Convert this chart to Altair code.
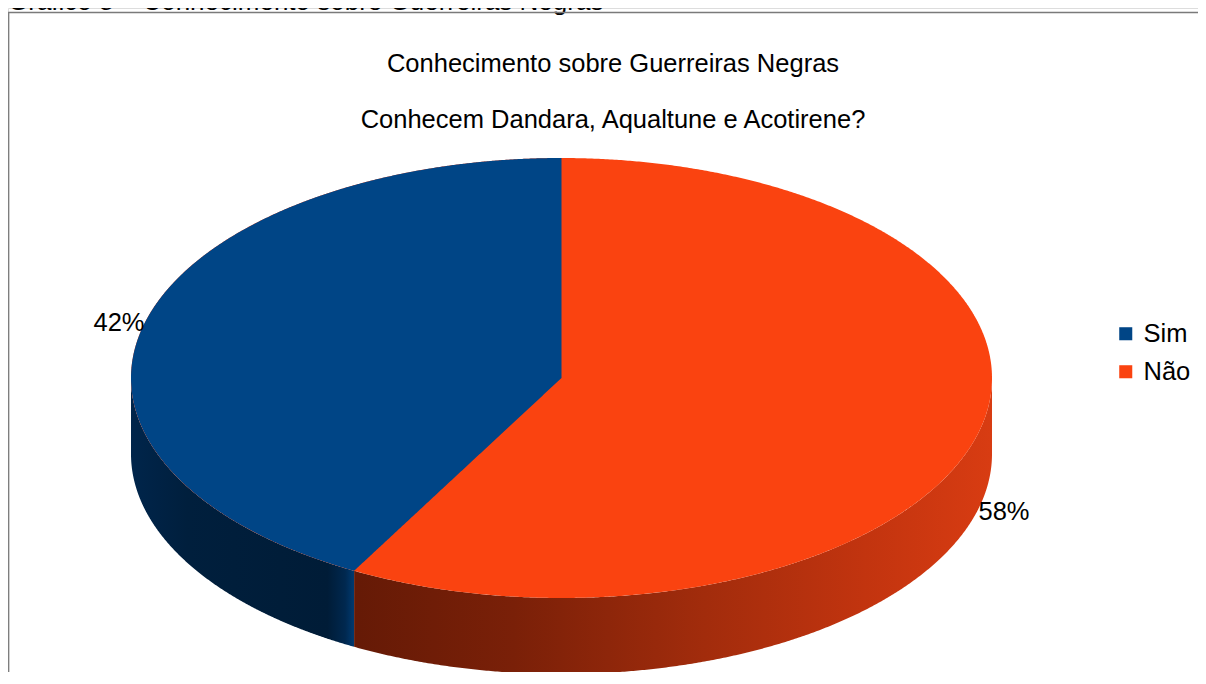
import altair as alt
import numpy as np
import pandas as pd

# ---------------- data ----------------
categories = ["Sim", "Não"]
values = [42, 58]
top_colors = ["#004586", "#fa4310"]
side_stops = [
    [(0.0, "#00254b"), (0.25, "#001f3d"), (0.88, "#001c37"), (0.96, "#00284f"), (1.0, "#003a70")],
    [(0.0, "#651a06"), (0.25, "#7a2008"), (0.55, "#a22c0c"), (0.8, "#c2340f"), (1.0, "#d83c12")],
]
title_text = "Conhecimento sobre Guerreiras Negras"
subtitle_text = "Conhecem Dandara, Aqualtune e Acotirene?"
caption_text = "Gráfico 8 – Conhecimento sobre Guerreiras Negras"

# ---------------- layout (page pixels) ----------------
W, H = 1190, 664
X0, Y0 = 8, 8
CX, CY, A, B, DEPTH = 561.5, 378.0, 430.5, 220.0, 76.0
FONT = "Liberation Sans"
FS = 25.5

total = float(sum(values))
fracs = [v / total for v in values]
starts = np.concatenate([[0.0], np.cumsum(fracs)[:-1]]) * 2 * np.pi
ends = np.cumsum(fracs) * 2 * np.pi

xs = alt.Scale(domain=[X0, X0 + W])
ys = alt.Scale(domain=[Y0, Y0 + H], reverse=True)


def X(f):
    return alt.X(f, type="quantitative", scale=xs, axis=None)


def Y(f):
    return alt.Y(f, type="quantitative", scale=ys, axis=None)


color_scale = alt.Scale(domain=categories, range=top_colors)

layers = []

# ---- side walls (front half of the disc) ----
for i, cat in enumerate(categories):
    a0 = max(starts[i], np.pi / 2)
    a1 = min(ends[i], 3 * np.pi / 2)
    if a1 <= a0:
        continue
    phi = np.linspace(a0, a1, 400)
    xv = CX - A * np.sin(phi)
    yt = CY - B * np.cos(phi)
    df = pd.DataFrame({"px": xv, "ptop": yt, "pbot": yt + DEPTH})
    grad = alt.Gradient(
        gradient="linear",
        stops=[alt.GradientStop(offset=o, color=c) for o, c in side_stops[i]],
        x1=0, x2=1, y1=0, y2=0,
    )
    layers.append(
        alt.Chart(df).mark_area(color=grad).encode(
            x=X("px"), y=Y("ptop"), y2=alt.Y2("pbot")
        )
    )

# ---- top face: full ellipse in the colour of the largest slice ----
big = int(np.argmax(values))
t = np.linspace(0, np.pi, 600)
ell = pd.DataFrame({
    "px": CX + A * np.cos(t),
    "ptop": CY - B * np.sin(t),
    "pbot": CY + B * np.sin(t),
    "cat": categories[big],
})
layers.append(
    alt.Chart(ell).mark_area().encode(
        x=X("px"), y=Y("ptop"), y2=alt.Y2("pbot"),
        color=alt.Color("cat:N", scale=color_scale, title=None,
                        legend=alt.Legend(orient="none", legendX=1105, legendY=313,
                                          symbolType="square", symbolSize=170,
                                          symbolStrokeWidth=0, labelFont=FONT,
                                          labelFontSize=FS, labelColor="#000000",
                                          labelOffset=5, rowPadding=11,
                                          padding=0)),
    )
)

# ---- top face: the other (convex) sectors ----
for i, cat in enumerate(categories):
    if i == big:
        continue
    p1 = ends[i]
    xP = CX - A * np.sin(p1)
    yP = CY - B * np.cos(p1)
    th = np.linspace(0, np.pi / 2, 500)
    xv = np.sort(np.concatenate([CX - A * np.sin(th), [xP]]))
    u = np.clip((xv - CX) / A, -1, 1)
    s = np.sqrt(1 - u ** 2)
    upper = CY - B * s
    lower = np.where(xv <= xP, CY + B * s, CY + (yP - CY) * (CX - xv) / (CX - xP))
    df = pd.DataFrame({"px": xv, "ptop": upper, "pbot": lower, "cat": cat})
    layers.append(
        alt.Chart(df).mark_area().encode(
            x=X("px"), y=Y("ptop"), y2=alt.Y2("pbot"),
            color=alt.Color("cat:N", scale=color_scale, legend=None),
        )
    )

# ---- percentage labels ----
for i, cat in enumerate(categories):
    pm = (starts[i] + ends[i]) / 2
    lx = CX - A * np.sin(pm)
    ly = CY - B * np.cos(pm)
    if np.cos(pm) < 0:
        ly += DEPTH + 3
    align = "right" if np.sin(pm) > 0 else "left"
    ldf = pd.DataFrame({"px": [lx], "py": [ly], "label": [f"{values[i]}%"]})
    layers.append(
        alt.Chart(ldf).mark_text(align=align, baseline="middle", font=FONT,
                                 fontSize=FS, color="#000000").encode(
            x=X("px"), y=Y("py"), text="label:N"
        )
    )

# ---- titles ----
tdf = pd.DataFrame({"t": [title_text]})
sdf = pd.DataFrame({"t": [subtitle_text]})
cdf = pd.DataFrame({"t": [caption_text]})
layers.append(alt.Chart(tdf).mark_text(font=FONT, fontSize=FS, color="#000000",
                                       align="center", baseline="alphabetic").encode(
    x=alt.value(605), y=alt.value(64), text="t:N"))
layers.append(alt.Chart(sdf).mark_text(font=FONT, fontSize=FS, color="#000000",
                                       align="center", baseline="alphabetic").encode(
    x=alt.value(605), y=alt.value(120), text="t:N"))
layers.append(alt.Chart(cdf).mark_text(font=FONT, fontSize=26, color="#000000",
                                       align="left", baseline="alphabetic").encode(
    x=alt.value(0), y=alt.value(1.5), text="t:N"))

# ---- frame ----
fdf = pd.DataFrame({"k": [0]})
layers.append(alt.Chart(fdf).mark_rect(fillOpacity=0, stroke="#7a7a7a", strokeWidth=1.3).encode(
    x=alt.value(0.7), x2=alt.value(W + 20), y=alt.value(4.5), y2=alt.value(H + 20)))

chart = alt.layer(*layers).properties(
    width=W, height=H,
    autosize=alt.AutoSizeParams(type="none"),
    padding=0,
).configure_view(strokeWidth=0).configure(background="#ffffff")

chart.save("out.html", embed_options={"renderer": "svg", "actions": False})
